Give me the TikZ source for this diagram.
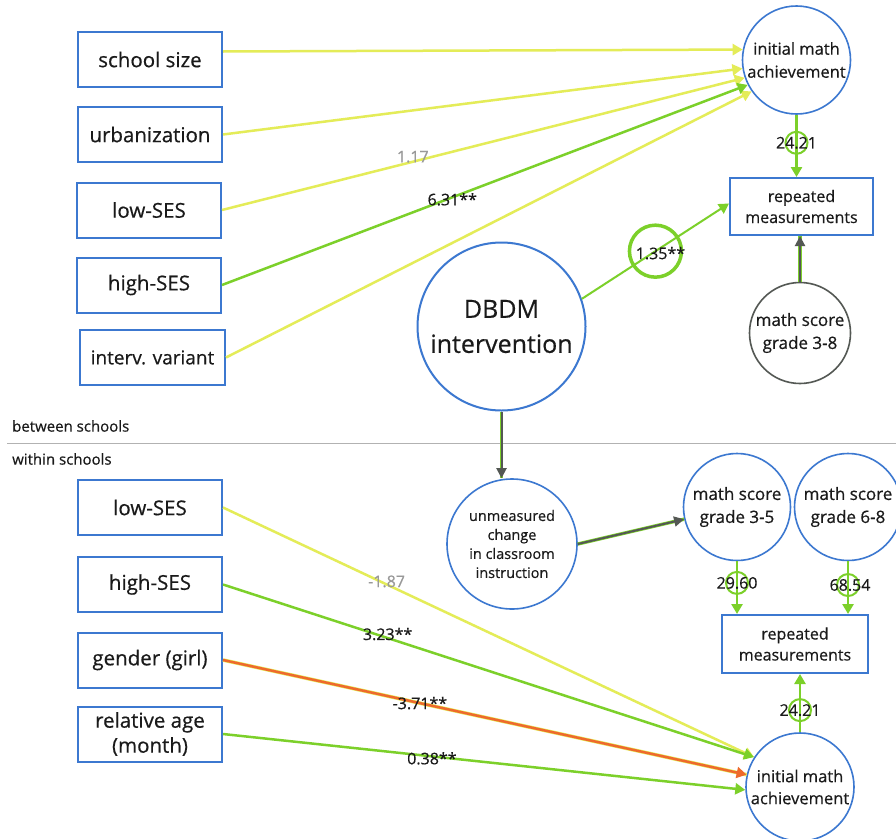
\documentclass[tikz,border=0pt]{standalone}
\usepackage{fontspec}
\setmainfont{Open Sans}[FakeBold=0.5]
\usetikzlibrary{arrows.meta}
\definecolor{bx}{HTML}{3C78D0}
\definecolor{yl}{HTML}{E4EC58}
\definecolor{gr}{HTML}{7CD02A}
\definecolor{org}{HTML}{EE6A2C}
\definecolor{dk}{HTML}{545854}
\definecolor{lbgray}{HTML}{999999}
\definecolor{txt}{HTML}{1A1A1A}
\begin{document}
\begin{tikzpicture}[x=1pt,y=-1pt,
  every node/.style={text=txt},
  box/.style={draw=bx, line width=2pt, minimum width=144pt, minimum height=55pt, inner sep=0pt, align=center, font=\fontsize{20.5}{25}\selectfont},
  circ/.style={circle, draw=bx, line width=1.6pt, inner sep=0pt, align=center},
  ar/.style={-{Triangle[length=10pt,width=11pt]}, line width=2.5pt},
  darr/.style={-{Triangle[length=10pt,width=10pt]}, draw=dk, line width=2pt, preaction={draw=gr, line width=3.4pt, -}},
  lab/.style={font=\fontsize{16}{18}\selectfont, inner sep=0pt, text=txt},
  glab/.style={lab, text=lbgray},
  smallc/.style={circle, draw=gr, line width=2pt, minimum size=22pt, inner sep=0pt},
  sec/.style={font=\fontsize{15}{18}\selectfont, anchor=west, inner sep=0pt}
]
\useasboundingbox (0,0) rectangle (896,838);
\fill[white] (0,0) rectangle (896,838);

% section divider
\draw[line width=1pt, black!30] (7,443) -- (896,443);
\node[sec] (between) at (12,426) {between schools};
\node[sec] (within) at (12,459) {within schools};

% upper left boxes
\node[box] (ss) at (150,59.5) {school size};
\node[box] (ur) at (150,134.5) {urbanization};
\node[box] (lsU) at (149,210) {low-SES};
\node[box] (hsU) at (149,285) {high-SES};
\node[box, minimum width=145pt, font=\fontsize{19}{24}\selectfont] (iv) at (152.5,357.5) {interv. variant};

% upper right
\node[circ, minimum size=108pt, font=\fontsize{16.5}{23}\selectfont] (imU) at (796.5,60) {initial math\\achievement};
\node[box, minimum width=143pt, minimum height=57pt, font=\fontsize{16}{21}\selectfont] (rmU) at (801.5,206.5) {repeated\\measurements};
\node[circ, draw=dk, minimum size=101pt, font=\fontsize{17}{23}\selectfont] (ms38) at (800,333) {math score\\grade 3-8};

% DBDM
\node[circ, minimum size=168pt, line width=2pt, font=\fontsize{25}{35}\selectfont] (db) at (501.5,326.5) {DBDM\\intervention};

% lower middle / right
\node[circ, minimum size=130pt, font=\fontsize{14.5}{19}\selectfont] (um) at (512,544) {unmeasured\\change\\in classroom\\instruction};
\node[circ, minimum size=107pt, font=\fontsize{17}{23}\selectfont] (ms35) at (737,507) {math score\\grade 3-5};
\node[circ, minimum size=107pt, font=\fontsize{17}{23}\selectfont] (ms68) at (848,507) {math score\\grade 6-8};
\node[box, minimum width=146pt, minimum height=58pt, font=\fontsize{16}{21}\selectfont] (rmL) at (795,644) {repeated\\measurements};
\node[circ, minimum size=108pt, font=\fontsize{16.5}{22}\selectfont] (imL) at (800,787) {initial math\\achievement};

% lower left boxes
\node[box] (lsL) at (150,507.5) {low-SES};
\node[box] (hsL) at (150,584.5) {high-SES};
\node[box] (gd) at (150,660) {gender (girl)};
\node[box] (ra) at (150,734) {relative age\\(month)};

% upper edges
\draw[ar, yl] ([yshift=8pt]ss.east) -- (imU.169);
\draw[ar, yl] (ur.east) -- (imU.189);
\draw[ar, yl] (lsU.east) -- (imU.199) node[glab, pos=0.365, yshift=5pt] {1.17};
\draw[ar, yl] (iv.east) -- (imU.215);
\draw[ar, gr] (hsU.east) -- (imU.207) node[lab, pos=0.438, yshift=-2pt] {6.31**};

% 24.21 upper
\draw[ar, gr] (imU.south) -- (imU.south |- rmU.north)
  node[smallc, pos=0.45, label={[lab]center:24.21}] {};

% math score 3-8 -> repeated
\draw[darr] (ms38.north) -- (ms38.north |- rmU.south);

% DBDM -> repeated measurements
\draw[ar, gr, line width=2pt] (db.19) -- ([yshift=3pt]rmU.west)
  node[circle, draw=gr, line width=3.5pt, minimum size=52pt, inner sep=0pt, pos=0.5,
       label={[lab, xshift=5pt, yshift=-2pt]center:1.35**}] {};

% DBDM -> unmeasured
\draw[darr] (db.south) -- (db.south |- um.north);
% unmeasured -> math score 3-5
\draw[darr] (um.east) -- (ms35.193);

% math score -> repeated (lower)
\draw[ar, gr] (ms35.south) -- (ms35.south |- rmL.north)
  node[smallc, pos=0.41, label={[lab]center:29.60}] {};
\draw[ar, gr] (ms68.south) -- (ms68.south |- rmL.north)
  node[smallc, pos=0.45, label={[lab, xshift=2pt]center:68.54}] {};

% lower initial -> repeated
\draw[ar, gr] (imL.north) -- (imL.north |- rmL.south)
  node[smallc, pos=0.38, label={[lab]center:24.21}] {};

% lower edges
\draw[ar, yl] (lsL.east) -- (imL.147) node[glab, pos=0.308, yshift=3pt] {-1.87};
\draw[ar, gr] (hsL.east) -- (imL.147) node[lab, pos=0.31, yshift=4pt] {3.23**};
\draw[ar, org, preaction={draw=yl, line width=3.6pt, -}] (gd.east) -- (imL.167) node[lab, pos=0.376] {-3.71**};
\draw[ar, gr] (ra.east) -- (imL.183) node[lab, pos=0.40, yshift=-2pt] {0.38**};
\end{tikzpicture}
\end{document}
